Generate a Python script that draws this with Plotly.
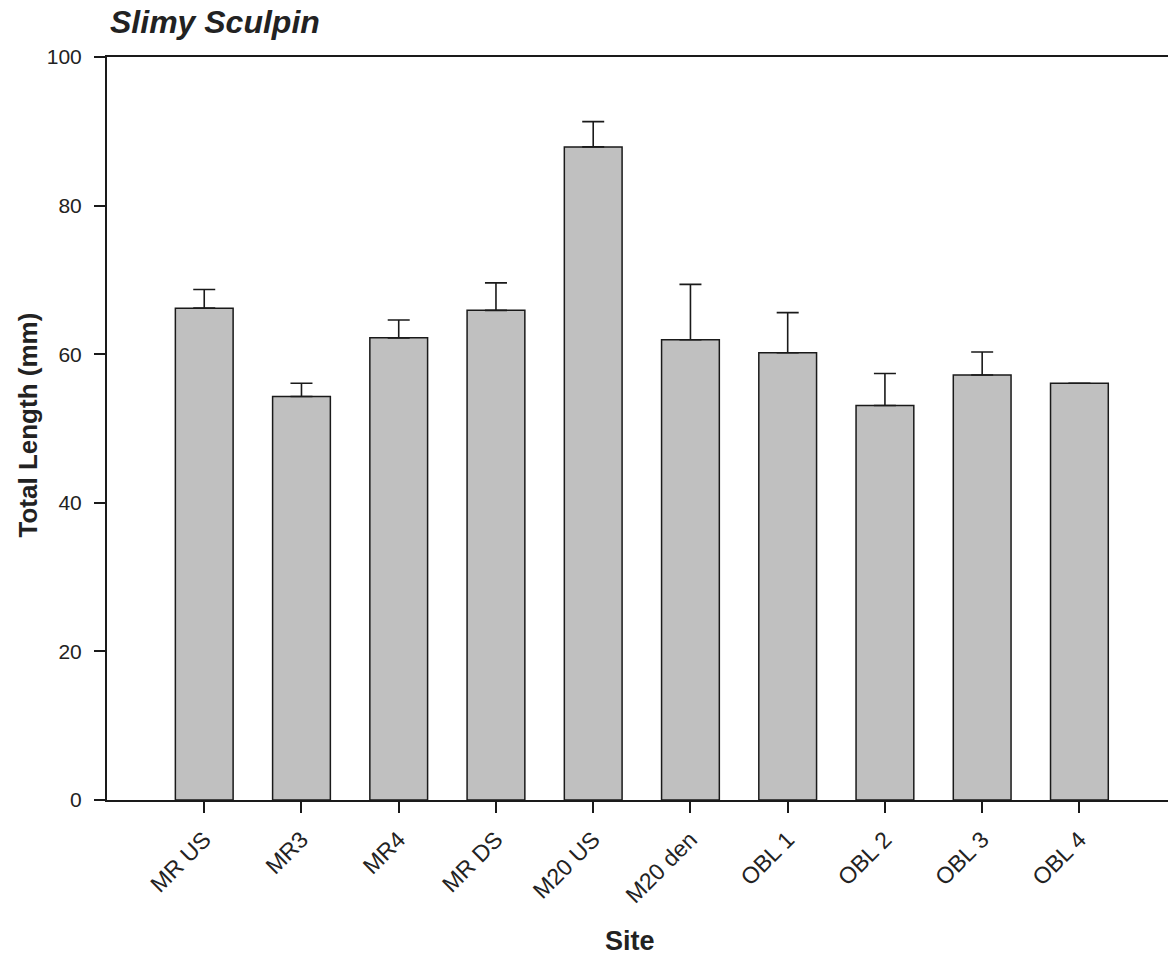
import plotly.graph_objects as go

sites = ["MR US", "MR3", "MR4", "MR DS", "M20 US", "M20 den", "OBL 1", "OBL 2", "OBL 3", "OBL 4"]
mean_length = [66.2, 54.3, 62.2, 65.9, 87.9, 61.95, 60.2, 53.1, 57.2, 56.1]
upper_error = [2.5, 1.8, 2.4, 3.7, 3.4, 7.45, 5.4, 4.3, 3.1, 0.0]
y_ticks = [0, 20, 40, 60, 80, 100]

FONT = "Arial, Liberation Sans, Helvetica, sans-serif"

fig = go.Figure()
fig.add_trace(go.Bar(
    x=list(range(len(sites))),
    y=mean_length,
    width=0.594,
    marker=dict(color="#c0c0c0", line=dict(color="#1a1a1a", width=1.5)),
    error_y=dict(type="data", symmetric=False, array=upper_error,
                 arrayminus=[0] * len(sites), color="#1a1a1a",
                 thickness=1.6, width=11),
    showlegend=False,
))

fig.update_layout(
    width=1168, height=958,
    margin=dict(l=107, r=0, t=57, b=158),
    paper_bgcolor="white", plot_bgcolor="white",
    font=dict(family=FONT, color="#222222"),
    title=dict(text="<b><i>Slimy Sculpin</i></b>", xref="container", yref="container",
               x=110 / 1168, xanchor="left", y=1 - 22 / 958, yanchor="middle",
               font=dict(size=32, family=FONT, color="#222222")),
    xaxis=dict(range=[-1, 9.911], tickmode="array",
               tickvals=list(range(len(sites))), ticktext=sites,
               tickangle=-45, ticks="outside", ticklen=11, tickwidth=1.6,
               tickcolor="#1a1a1a", showline=True, linecolor="#1a1a1a",
               linewidth=2, mirror=True, showgrid=False, zeroline=False,
               ticklabelstandoff=4,
               tickfont=dict(size=23, family=FONT, color="#222222")),
    yaxis=dict(range=[0, 100], tickmode="array", tickvals=y_ticks,
               ticks="outside", ticklen=11, tickwidth=1.6, tickcolor="#1a1a1a",
               showline=True, linecolor="#1a1a1a", linewidth=2,
               showgrid=False, zeroline=False, ticklabelstandoff=8,
               tickfont=dict(size=21, family=FONT, color="#222222")),
    annotations=[
        dict(text="<b>Site</b>", xref="paper", yref="paper", x=(630 - 107) / 1061,
             y=-(941 - 800) / 743,
             xanchor="center", yanchor="middle", showarrow=False,
             font=dict(size=27, family=FONT, color="#222222")),
        dict(text="<b>Total Length (mm)</b>", xref="paper", yref="paper",
             x=(27 - 107) / 1061, y=(800 - 425.5) / 743, textangle=-90,
             xanchor="center", yanchor="middle", showarrow=False,
             font=dict(size=26, family=FONT, color="#222222")),
    ],
)

fig.write_html("out.html")
